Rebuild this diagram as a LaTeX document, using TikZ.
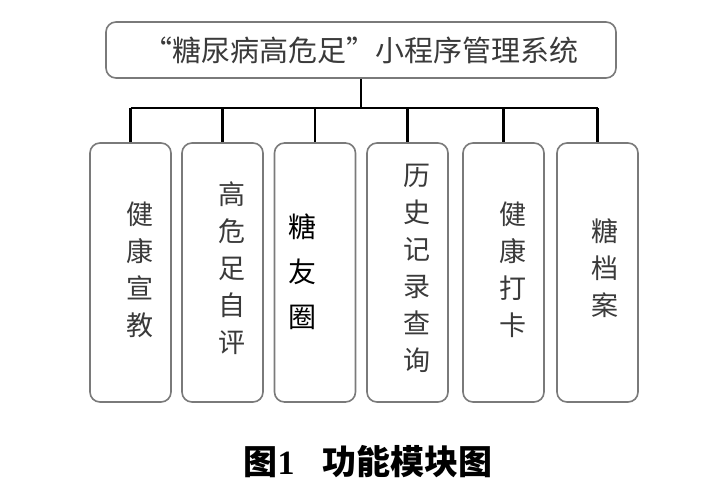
\documentclass[tikz,border=0pt]{standalone}
\usepackage{fontspec}
\setmainfont{Liberation Serif}
\newfontfamily\cjk{Noto Sans CJK SC}
\definecolor{boxline}{HTML}{7A7A7A}
\definecolor{txt}{HTML}{3A3A3A}
\tikzset{
  modbox/.style={draw=boxline, line width=1.6pt, rounded corners=10pt,
    minimum width=81pt, minimum height=259pt, inner sep=0pt},
  modtxt/.style={text=txt, align=center, inner sep=0pt,
    font=\cjk\fontsize{27pt}{37pt}\selectfont},
  conn/.style={draw=black, line width=2.2pt}
}
\begin{document}
\begin{tikzpicture}[x=1pt,y=-1pt]
\useasboundingbox[fill=white] (0,0) rectangle (728,485);
\node[draw=boxline, line width=1.6pt, rounded corners=10pt, minimum width=510pt,
  minimum height=56pt, inner sep=0pt] (top) at (361,50) {};
\node[text=txt, inner sep=0pt, font=\cjk\fontsize{29pt}{32pt}\selectfont] (title) at (361,50) {“糖尿病高危足”小程序管理系统};
\node[modbox] (b1) at (130.5,272.5) {};
\node[modbox] (b2) at (222.5,272.5) {};
\node[modbox] (b3) at (315,272.5) {};
\node[modbox] (b4) at (407.5,272.5) {};
\node[modbox] (b5) at (503.5,272.5) {};
\node[modbox] (b6) at (597.5,272.5) {};
\node[modtxt] (t1) at (140,270) {健\\康\\宣\\教};
\node[modtxt] (t2) at (232,268) {高\\危\\足\\自\\评};
\node[modtxt, text=black, font=\cjk\fontsize{28pt}{45pt}\selectfont] (t3) at (302,272) {糖\\友\\圈};
\node[modtxt] (t4) at (417,268) {历\\史\\记\\录\\查\\询};
\node[modtxt] (t5) at (513,270) {健\\康\\打\\卡};
\node[modtxt] (t6) at (605,268) {糖\\档\\案};
\coordinate (bus) at (361,108);
\draw[conn] (top.south) -- (bus);
\draw[conn] (b1.north |- bus) -- (b6.north |- bus);
\foreach \i in {1,...,6} { \draw[conn] (b\i.north |- bus) -- (b\i.north); }
\node[inner sep=0pt, font=\fontsize{34pt}{36pt}\selectfont\bfseries] (cap) at (368,462) {{\cjk 图}1\hspace{28pt}{\cjk 功能模块图}};
\end{tikzpicture}
\end{document}
